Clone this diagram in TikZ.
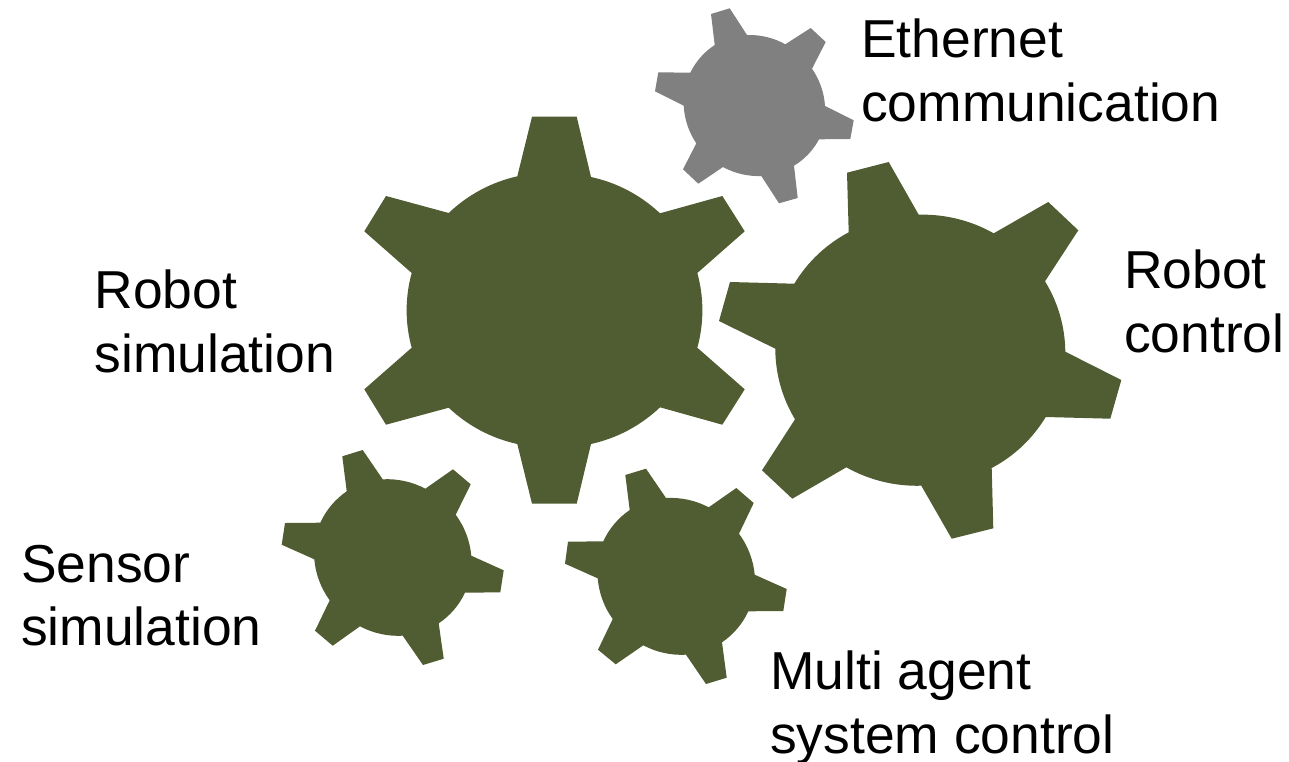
\documentclass[tikz,border=0pt]{standalone}
\usepackage{fontspec}
\usepackage{xcolor}
\setmainfont{Liberation Sans}
\definecolor{gearbg}{HTML}{505C31}
\definecolor{gearmuted}{HTML}{808080}
\tikzset{
  gear/.style={fill=gearbg, draw=none},
  mutedgear/.style={fill=gearmuted, draw=none},
  rim/.style={bend left=15.5, looseness=0.87},
  lab/.style={text=black, font=\fontsize{53.4}{63.3}\selectfont, align=left, anchor=north west, inner sep=0pt},
}

\begin{document}
\begin{tikzpicture}[x=1pt,y=-1pt]
  \useasboundingbox (0,0) rectangle (1289,761);
  % robot simulation
  \fill[gear] (532,116.7) -- (576.7,116.7) -- (591,177) to[rim] (660,213.3) -- (722.3,196) -- (744.7,231.3) -- (697.3,273)
    to[rim] (697.3,347.7) -- (744.7,389.3) -- (722.3,424.7) -- (660,407.3) to[rim] (591,444) -- (576.7,503.7) -- (532,503.7) -- (517.3,444)
    to[rim] (448.7,407.7) -- (386,424.7) -- (364.3,389.3) -- (411.7,347.7) to[rim] (411.7,273) -- (364.3,231.3) -- (386,196) -- (448.7,213) to[rim] (517.3,176.3) -- cycle;
  % robot control
  \fill[gear] (847,172.7) -- (888.7,162) -- (918.7,214.7) to[rim] (993.7,233.3) -- (1048.3,202) -- (1078.3,230.3) -- (1045,281.3)
    to[rim] (1065.3,351.7) -- (1121.3,380) -- (1110.3,418.7) -- (1045.7,417) to[rim] (991.7,468) -- (993.3,528.3) -- (951.7,538.7) -- (921.3,485.7)
    to[rim] (846.3,467.3) -- (792.3,498.7) -- (762,470.3) -- (795,419.3) to[rim] (775.3,348.7) -- (719,321) -- (730,282) -- (794.3,283.7) to[rim] (848.7,232.3) -- cycle;
  % ethernet
  \fill[mutedgear] (711,14) -- (729.7,8.3) -- (747,35) to[rim] (785.3,44.3) -- (810.7,28) -- (825.7,42) -- (812,68.7)
    to[rim] (825,106) -- (853.7,120.3) -- (850.3,139) -- (819,139.3) to[rim] (794,165.7) -- (797.7,198) -- (779,203.3) -- (761.3,176)
    to[rim] (723,167) -- (698.3,183.7) -- (683,169.3) -- (696.3,143.3) to[rim] (683.7,105.7) -- (655,91.3) -- (658.3,72.3) -- (690.3,72.7) to[rim] (714.7,45) -- cycle;
  % sensor
  \fill[gear] (342.3,456.3) -- (362.7,450) -- (382.7,479.3) to[rim] (425.3,488.7) -- (453,469.3) -- (470.7,484.3) -- (455.7,514.7)
    to[rim] (471.3,555.7) -- (503.7,570.3) -- (500.3,592.3) -- (465,592.7) to[rim] (438.7,623.3) -- (443.7,658.7) -- (423,665) -- (402.7,635.7)
    to[rim] (360,626.3) -- (332.7,645.7) -- (315,630.7) -- (329.7,600.3) to[rim] (314.3,559.3) -- (281.7,544.7) -- (285,523) -- (320.3,522.7) to[rim] (346.7,491.3) -- cycle;
  % multi agent
  \fill[gear] (625.3,475) -- (646,468.7) -- (666,498) to[rim] (708.7,507.3) -- (736.3,488) -- (753.7,503) -- (739,533.7)
    to[rim] (754.7,574.7) -- (786.7,589) -- (783.3,611) -- (748.3,611.3) to[rim] (722,642.3) -- (726.7,677.7) -- (706,684) -- (686,654.7)
    to[rim] (643.3,645.3) -- (615.7,664.3) -- (598,649.7) -- (612.7,619) to[rim] (597.7,578.3) -- (565,563.7) -- (568,541.7) -- (603.3,541.3) to[rim] (629.7,510) -- cycle;
  \node[lab] (ethernet) at (861,19) {Ethernet\\communication};
  \node[lab] (robotsim) at (94.5,270) {Robot\\simulation};
  \node[lab] (robotctrl) at (1124,250) {Robot\\control};
  \node[lab] (sensorsim) at (21,545) {Sensor\\simulation};
  \node[lab] (multiagent) at (770,651) {Multi agent\\system control};
\end{tikzpicture}
\end{document}
